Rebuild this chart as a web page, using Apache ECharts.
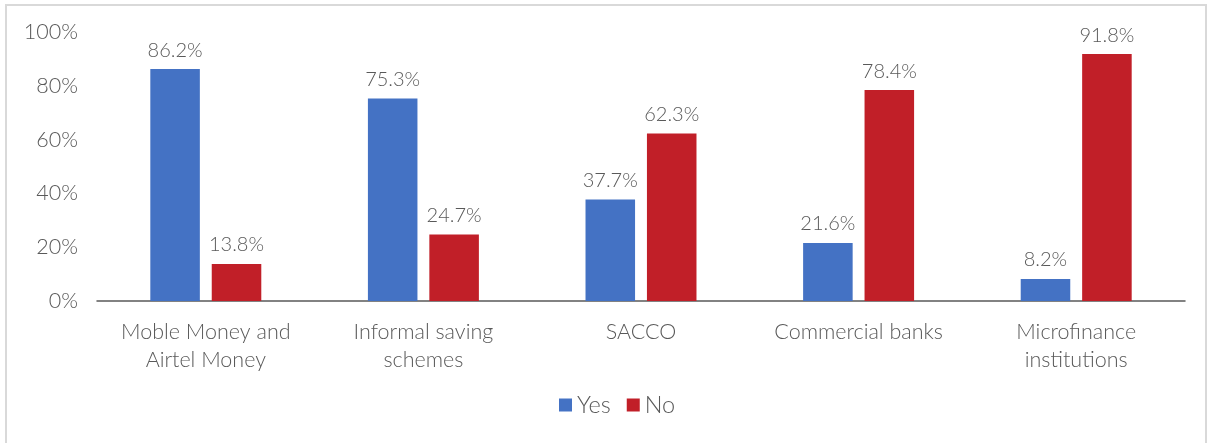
<!DOCTYPE html>
<html>
<head>
<meta charset="utf-8">
<script src="https://cdn.jsdelivr.net/npm/echarts@6/dist/echarts.min.js"></script>
<style>
  html, body { margin: 0; padding: 0; background: #fff; }
  #chart { width: 1210px; height: 443px; }
</style>
</head>
<body>
<div id="chart"></div>
<script>
// data
const categories = ['Moble Money and\nAirtel Money', 'Informal saving\nschemes', 'SACCO', 'Commercial banks', 'Microfinance\ninstitutions']
const yesValues = [86.2, 75.3, 37.7, 21.6, 8.2]
const noValues = [13.8, 24.7, 62.3, 78.4, 91.8]
const seriesNames = ['Yes', 'No']
const colors = ['#4472C4', '#C11F28']

const textColor = '#595959'
const font = 'Lato'

const chart = echarts.init(document.getElementById('chart'))

const labelStyle = {
  show: true,
  position: 'top',
  distance: 9,
  color: textColor,
  fontFamily: font,
  fontWeight: 300,
  fontSize: 20,
  formatter: p => p.value.toFixed(1) + '%'
}

chart.setOption({
  animation: false,
  color: colors,
  graphic: [{
    type: 'rect',
    shape: { x: 6, y: 5, width: 1200, height: 445 },
    style: { fill: 'none', stroke: '#d9d9d9', lineWidth: 2 },
    silent: true
  }],
  grid: { left: 97, right: 25, top: 32, bottom: 142 },
  legend: {
    data: seriesNames,
    bottom: 21,
    left: 554,
    itemWidth: 13,
    itemHeight: 13,
    itemGap: 16,
    icon: 'rect',
    textStyle: { color: textColor, fontFamily: font, fontWeight: 300, fontSize: 23.5 }
  },
  xAxis: {
    type: 'category',
    data: categories,
    axisLine: { lineStyle: { color: '#595959', width: 1.5 } },
    axisTick: { show: false },
    axisLabel: {
      color: textColor,
      fontFamily: font,
      fontWeight: 300,
      fontSize: 21.5,
      lineHeight: 28,
      margin: 17,
      interval: 0
    }
  },
  yAxis: {
    type: 'value',
    min: 0,
    max: 100,
    interval: 20,
    axisLine: { show: false },
    axisTick: { show: false },
    splitLine: { show: false },
    axisLabel: {
      formatter: '{value}%',
      color: textColor,
      fontFamily: font,
      fontWeight: 300,
      fontSize: 21.5,
      margin: 19
    }
  },
  series: [
    {
      name: seriesNames[0],
      type: 'bar',
      data: yesValues,
      barGap: '24%',
      barCategoryGap: '49%',
      label: labelStyle
    },
    {
      name: seriesNames[1],
      type: 'bar',
      data: noValues,
      label: labelStyle
    }
  ]
})
</script>
</body>
</html>
